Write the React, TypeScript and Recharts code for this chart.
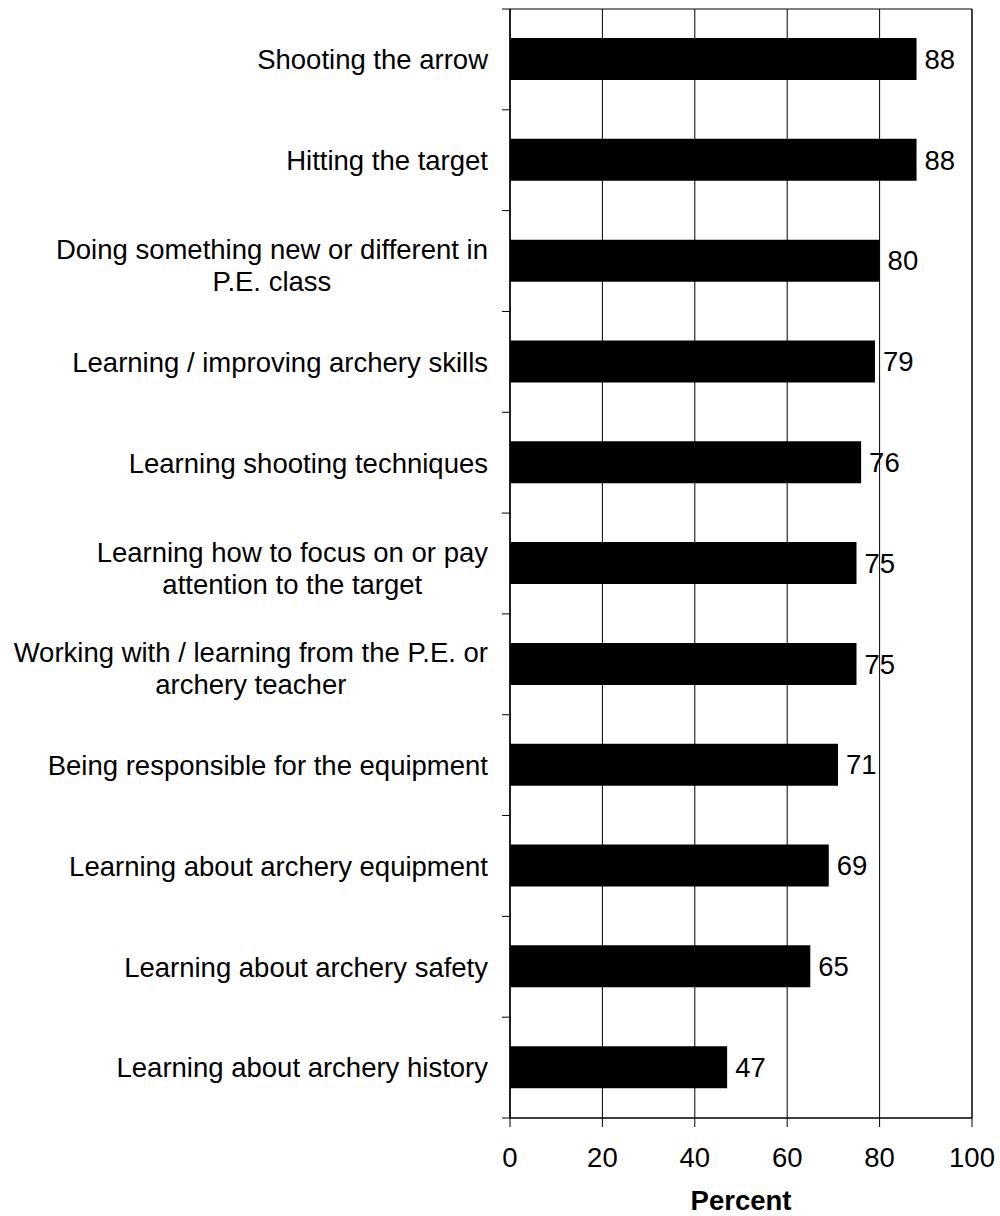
import React from "react";
import { BarChart, Bar, XAxis, YAxis, CartesianGrid, LabelList, ReferenceArea } from "recharts";

// survey items, top to bottom; "\n" marks where the reference wraps the label
const items = [
  "Shooting the arrow",
  "Hitting the target",
  "Doing something new or different in\nP.E. class",
  "Learning / improving archery skills",
  "Learning shooting techniques",
  "Learning how to focus on or pay\nattention to the target",
  "Working with / learning from the P.E. or\narchery teacher",
  "Being responsible for the equipment",
  "Learning about archery equipment",
  "Learning about archery safety",
  "Learning about archery history",
];
const percents = [88, 88, 80, 79, 76, 75, 75, 71, 69, 65, 47];
const xTicks = [0, 20, 40, 60, 80, 100];

const data = items.map((item, i) => ({ item, percent: percents[i] }));

const FONT = '"Liberation Sans", Arial, sans-serif';
const FS = 27.5;
const LINE_H = 32;

let ctx: CanvasRenderingContext2D | null = null;
function textWidth(s: string) {
  if (!ctx) ctx = document.createElement("canvas").getContext("2d");
  if (!ctx) return s.length * FS * 0.5;
  ctx.font = `${FS}px ${FONT}`;
  return ctx.measureText(s).width;
}

function CategoryTick(props: any) {
  const { x, y, payload, index, visibleTicksCount } = props;
  const half = payload?.offset ?? 50;
  const lines = String(payload.value).split("\n");
  const axisX = x + 22;
  let label;
  if (lines.length === 1) {
    label = (
      <text x={x} y={y + FS * 0.36} textAnchor="end" fontSize={FS} fontFamily={FONT} fill="#000">
        {lines[0]}
      </text>
    );
  } else {
    // wrapped labels are centred on each other, right edge of the block at x
    const w = Math.max(...lines.map(textWidth));
    const cx = x - w / 2;
    label = (
      <text textAnchor="middle" fontSize={FS} fontFamily={FONT} fill="#000">
        {lines.map((l, i) => (
          <tspan key={i} x={cx} y={y - 2 + i * LINE_H}>
            {l}
          </tspan>
        ))}
      </text>
    );
  }
  return (
    <g>
      <line x1={axisX - 8} x2={axisX} y1={y - half} y2={y - half} stroke="#000" />
      {index === visibleTicksCount - 1 && (
        <line x1={axisX - 8} x2={axisX} y1={y + half} y2={y + half} stroke="#000" />
      )}
      {label}
    </g>
  );
}

export default function App() {
  return (
    <div style={{ position: "absolute", left: 0, top: 0, background: "#fff", fontFamily: FONT }}>
      <BarChart
        width={1000}
        height={1216}
        data={data}
        layout="vertical"
        margin={{ top: 9, right: 28, bottom: 0, left: 0 }}
      >
        <CartesianGrid horizontal={false} stroke="#000" />
        <XAxis
          type="number"
          domain={[0, 100]}
          ticks={xTicks}
          interval={0}
          height={98}
          tickSize={9}
          tickMargin={20}
          axisLine={{ stroke: "#000" }}
          tickLine={{ stroke: "#000" }}
          tick={{ fill: "#000", fontSize: FS, fontFamily: FONT }}
          label={{
            value: "Percent",
            position: "insideBottom",
            offset: 6,
            fill: "#000",
            fontSize: FS,
            fontWeight: "bold",
            fontFamily: FONT,
          }}
        />
        <YAxis
          type="category"
          dataKey="item"
          width={510}
          interval={0}
          tickLine={false}
          tickSize={0}
          tickMargin={22}
          axisLine={{ stroke: "#000" }}
          tick={<CategoryTick />}
        />
        <ReferenceArea x1={0} x2={100} fill="none" stroke="#000" ifOverflow="visible" />
        <Bar dataKey="percent" fill="#000" barSize={42} isAnimationActive={false}>
          <LabelList
            dataKey="percent"
            position="right"
            offset={8}
            fill="#000"
            fontSize={FS}
            fontFamily={FONT}
          />
        </Bar>
      </BarChart>
    </div>
  );
}
